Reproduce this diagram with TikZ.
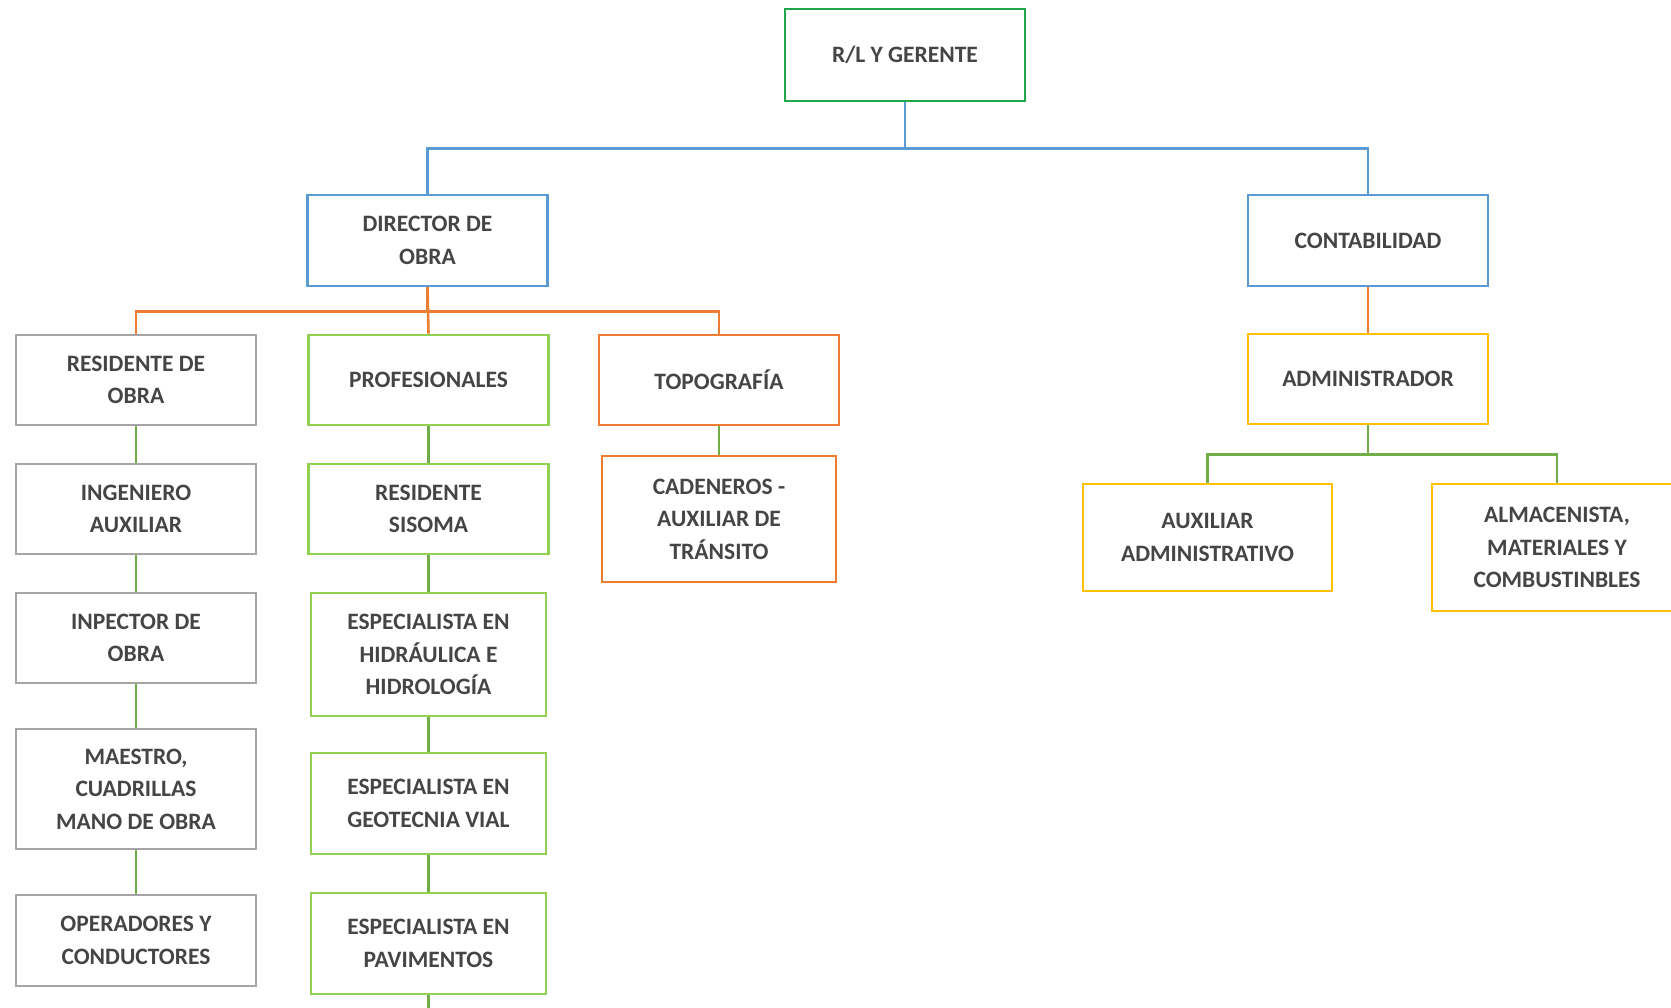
\documentclass[tikz,border=0pt]{standalone}
\usepackage{fontspec}
\setmainfont{Carlito}
\definecolor{cTop}{HTML}{1FA84A}
\definecolor{cBlue}{HTML}{5B9BD5}
\definecolor{cOrange}{HTML}{ED7D31}
\definecolor{cGray}{HTML}{A5A5A5}
\definecolor{cLGreen}{HTML}{92D050}
\definecolor{cYellow}{HTML}{FFC000}
\definecolor{cDGreen}{HTML}{70AD47}
\definecolor{cText}{HTML}{454545}
\tikzset{
  box/.style={draw=#1, line width=2.6pt, fill=white, align=center, text=cText,
    font=\fontsize{23.5}{32.5}\selectfont\bfseries, minimum width=240pt, minimum height=90pt,
    inner sep=2pt},
  conn/.style={draw=#1, line width=2.6pt},
}
\begin{document}
\begin{tikzpicture}[x=1pt,y=-1pt]
\useasboundingbox (0,0) rectangle (1671,1008);
\clip (0,0) rectangle (1671,1008);
\fill[white] (0,0) rectangle (1671,1008);

% nodes
\node[box=cTop, minimum height=92pt] (top) at (905,55) {R/L Y GERENTE};
\node[box=cBlue, minimum height=91pt] (dir) at (427.5,240.5) {DIRECTOR DE\\OBRA};
\node[box=cBlue, minimum height=91pt] (cont) at (1368,240.5) {CONTABILIDAD};

\node[box=cGray] (res) at (136,380) {RESIDENTE DE\\OBRA};
\node[box=cLGreen] (prof) at (428.5,380) {PROFESIONALES};
\node[box=cOrange] (topo) at (719,380) {TOPOGRAFÍA};

\node[box=cGray] (ing) at (136,509) {INGENIERO\\AUXILIAR};
\node[box=cLGreen] (sis) at (428.5,509) {RESIDENTE\\SISOMA};
\node[box=cOrange, minimum width=234pt, minimum height=126pt] (cad) at (719,519) {CADENEROS -\\AUXILIAR DE\\TRÁNSITO};

\node[box=cGray] (insp) at (136,638) {INPECTOR DE\\OBRA};
\node[box=cLGreen, minimum width=235pt, minimum height=123pt] (hid) at (428.5,654.5) {ESPECIALISTA EN\\HIDRÁULICA E\\HIDROLOGÍA};

\node[box=cGray, minimum height=120pt] (mae) at (136,789) {MAESTRO,\\CUADRILLAS\\MANO DE OBRA};
\node[box=cLGreen, minimum width=235pt, minimum height=101pt] (geo) at (428.5,803.5) {ESPECIALISTA EN\\GEOTECNIA VIAL};

\node[box=cGray, minimum height=91pt] (ope) at (136,940.5) {OPERADORES Y\\CONDUCTORES};
\node[box=cLGreen, minimum width=235pt, minimum height=101pt] (pav) at (428.5,943.5) {ESPECIALISTA EN\\PAVIMENTOS};

\node[box=cYellow] (adm) at (1368,379) {ADMINISTRADOR};
\node[box=cYellow, minimum width=249pt, minimum height=107pt] (aux) at (1207.5,537.5) {AUXILIAR\\ADMINISTRATIVO};
\node[box=cYellow, minimum width=250pt, minimum height=127pt] (alm) at (1557,547.5) {ALMACENISTA,\\MATERIALES Y\\COMBUSTINBLES};

\coordinate (pavend) at (428.5,1010);

% connectors
\draw[conn=cBlue] (top.south) -- ++(0,46) -| (dir.north);
\draw[conn=cBlue] (top.south) -- ++(0,46) -| (cont.north);

\draw[conn=cOrange] (dir.south) -- ++(0,24) -| (res.north);
\draw[conn=cOrange] (dir.south) -- (prof.north);
\draw[conn=cOrange] (dir.south) -- ++(0,24) -| (topo.north);
\draw[conn=cOrange] (cont.south) -- (adm.north);

\draw[conn=cDGreen] (adm.south) -- ++(0,29) -| (aux.north);
\draw[conn=cDGreen] (adm.south) -- ++(0,29) -| (alm.north);

\draw[conn=cDGreen] (res.south) -- (ing.north);
\draw[conn=cDGreen] (ing.south) -- (insp.north);
\draw[conn=cDGreen] (insp.south) -- (mae.north);
\draw[conn=cDGreen] (mae.south) -- (ope.north);

\draw[conn=cDGreen] (prof.south) -- (sis.north);
\draw[conn=cDGreen] (sis.south) -- (hid.north);
\draw[conn=cDGreen] (hid.south) -- (geo.north);
\draw[conn=cDGreen] (geo.south) -- (pav.north);
\draw[conn=cDGreen] (pav.south) -- (pavend);

\draw[conn=cDGreen] (topo.south) -- (cad.north);
\end{tikzpicture}
\end{document}
